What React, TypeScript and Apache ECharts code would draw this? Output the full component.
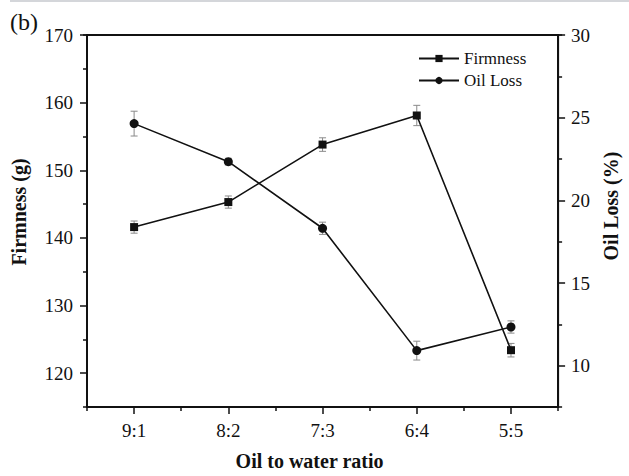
import React, { useEffect, useRef } from "react";
import * as echarts from "echarts";

const categories = ["9:1", "8:2", "7:3", "6:4", "5:5"];
const firmness = [141.6, 145.3, 153.8, 158.1, 123.4];
const firmnessErr = [0.9, 0.9, 1.0, 1.5, 1.0];
const oilLoss = [24.64, 22.34, 18.31, 10.91, 12.34];
const oilLossErr = [0.75, 0.2, 0.37, 0.57, 0.37];

const SERIF = "'Liberation Serif', 'Times New Roman', serif";
const INK = "#111";

function errData(vals: number[], errs: number[]) {
  return vals.map((v, i) => [i, v - errs[i], v + errs[i]]);
}

function errRender(params: any, api: any) {
  const x = api.value(0);
  const pLo = api.coord([x, api.value(1)]);
  const pHi = api.coord([x, api.value(2)]);
  const hw = 3.5;
  const st = { stroke: "#8a8a8a", lineWidth: 1 };
  return {
    type: "group",
    children: [
      { type: "line", shape: { x1: pLo[0], y1: pLo[1], x2: pHi[0], y2: pHi[1] }, style: st },
      { type: "line", shape: { x1: pLo[0] - hw, y1: pLo[1], x2: pLo[0] + hw, y2: pLo[1] }, style: st },
      { type: "line", shape: { x1: pHi[0] - hw, y1: pHi[1], x2: pHi[0] + hw, y2: pHi[1] }, style: st },
    ],
  };
}

export default function App() {
  const ref = useRef<HTMLDivElement>(null);
  useEffect(() => {
    if (!ref.current) return;
    const chart = echarts.init(ref.current, undefined, { renderer: "svg" });
    const axisLine = { show: true, lineStyle: { color: INK, width: 2 } };
    const labelStyle = { color: INK, fontFamily: SERIF, fontSize: 19 };
    const option: any = {
      animation: false,
      backgroundColor: "#fff",
      grid: {
        left: 87,
        right: 67,
        top: 35,
        bottom: 59,
        show: true,
        borderColor: INK,
        borderWidth: 2,
        containLabel: false,
      },
      graphic: [
        { type: "rect", shape: { x: 10, y: 0, width: 619, height: 2 }, style: { fill: "#d4d6da" } },
        {
          type: "text",
          left: 10,
          top: 10,
          style: { text: "(b)", fontFamily: SERIF, fontSize: 24, fill: INK },
        },
      ],
      legend: {
        left: 413,
        top: 45,
        orient: "vertical",
        itemWidth: 40,
        itemHeight: 9,
        itemGap: 5,
        textStyle: { fontFamily: SERIF, fontSize: 17, color: INK },
        data: ["Firmness", "Oil Loss"],
      },
      xAxis: [
        {
          type: "category",
          data: categories,
          boundaryGap: true,
          position: "bottom",
          axisLine,
          axisTick: { show: true, alignWithLabel: true, length: 7, lineStyle: { color: INK, width: 1.5 } },
          axisLabel: { ...labelStyle, margin: 14 },
          splitLine: { show: false },
          name: "Oil to water ratio",
          nameLocation: "middle",
          nameGap: 44,
          nameTextStyle: { fontFamily: SERIF, fontSize: 20, fontWeight: "bold", color: INK, padding: [0, 26, 0, 0] },
        },
        {
          type: "category",
          data: categories,
          boundaryGap: true,
          position: "bottom",
          axisLine: { show: false },
          axisTick: { show: true, alignWithLabel: false, length: 4, lineStyle: { color: INK, width: 1.5 } },
          axisLabel: { show: false },
          splitLine: { show: false },
        },
      ],
      yAxis: [
        {
          type: "value",
          min: 115,
          max: 170,
          position: "left",
          axisLine,
          axisTick: { show: true, length: 7, lineStyle: { color: INK, width: 1.5 } },
          axisLabel: { ...labelStyle, margin: 14, showMinLabel: false },
          splitLine: { show: false },
          name: "Firmness (g)",
          nameLocation: "middle",
          nameRotate: 90,
          nameGap: 58,
          nameTextStyle: { fontFamily: SERIF, fontSize: 20, fontWeight: "bold", color: INK, padding: [0, 0, 0, 18] },
        },
        {
          type: "value",
          min: 7.5,
          max: 30,
          position: "right",
          axisLine,
          axisTick: { show: true, length: 7, lineStyle: { color: INK, width: 1.5 } },
          axisLabel: { ...labelStyle, margin: 13, showMinLabel: false },
          splitLine: { show: false },
          name: "Oil Loss (%)",
          nameLocation: "middle",
          nameRotate: 90,
          nameGap: 42,
          nameTextStyle: { fontFamily: SERIF, fontSize: 20, fontWeight: "bold", color: INK, padding: [0, 0, 0, 30] },
        },
        {
          type: "value",
          min: 0,
          max: 55,
          interval: 10,
          position: "left",
          axisLine: { show: false },
          axisTick: { show: true, length: 4, lineStyle: { color: INK, width: 1.5 } },
          axisLabel: { show: false },
          splitLine: { show: false },
        },
        {
          type: "value",
          min: 0,
          max: 22.5,
          interval: 5,
          position: "right",
          axisLine: { show: false },
          axisTick: { show: true, length: 4, lineStyle: { color: INK, width: 1.5 } },
          axisLabel: { show: false },
          splitLine: { show: false },
        },
      ],
      series: [
        {
          type: "custom",
          name: "fErr",
          xAxisIndex: 0,
          yAxisIndex: 0,
          renderItem: errRender,
          data: errData(firmness, firmnessErr),
          encode: { x: 0, y: [1, 2] },
          z: 1,
          silent: true,
        },
        {
          type: "custom",
          name: "oErr",
          xAxisIndex: 0,
          yAxisIndex: 1,
          renderItem: errRender,
          data: errData(oilLoss, oilLossErr),
          encode: { x: 0, y: [1, 2] },
          z: 1,
          silent: true,
        },
        {
          type: "line",
          name: "Firmness",
          xAxisIndex: 0,
          yAxisIndex: 0,
          data: firmness,
          symbol: "rect",
          symbolSize: 8,
          itemStyle: { color: INK },
          lineStyle: { color: INK, width: 1.6 },
          z: 3,
        },
        {
          type: "line",
          name: "Oil Loss",
          xAxisIndex: 0,
          yAxisIndex: 1,
          data: oilLoss,
          symbol: "circle",
          symbolSize: 9,
          itemStyle: { color: INK },
          lineStyle: { color: INK, width: 1.6 },
          z: 3,
        },
      ],
    };
    chart.setOption(option);
    return () => chart.dispose();
  }, []);
  return (
    <div
      ref={ref}
      style={{ position: "absolute", left: 0, top: 0, width: 629, height: 476, background: "#fff" }}
    />
  );
}
